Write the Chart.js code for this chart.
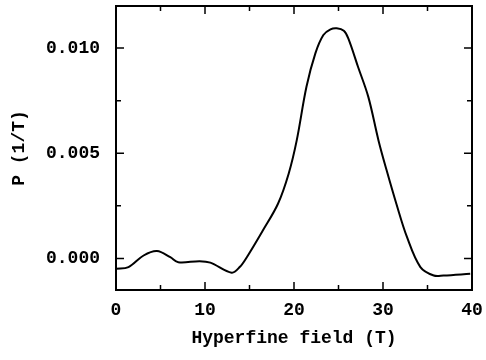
<!DOCTYPE html>
<html>
<head>
<meta charset="utf-8">
<script src="https://cdn.jsdelivr.net/npm/chart.js@4"></script>
<style>
  html, body { margin: 0; padding: 0; background: #fff; }
  #wrap { width: 486px; height: 360px; }
</style>
</head>
<body>
<div id="wrap"><canvas id="chart"></canvas></div>
<script>
// values
const fieldT = [0, 1.4, 3.1, 4.6, 6.1, 7.0, 9.4, 10.6, 13.0, 13.9, 14.7, 16.5, 18.2, 19.4, 20.3, 21.4, 22.4, 23.3, 24.1, 24.8, 25.6, 26.1, 27.2, 28.35, 29.5, 30.4, 31.5, 32.7, 34.2, 35.7, 36.8, 39.8];
const probability = [-0.00049, -0.00041, 0.00014, 0.00035, 0.00006, -0.00018, -0.00013, -0.0002, -0.00068, -0.00041, 0.00006, 0.00133, 0.0026, 0.00403, 0.0056, 0.00816, 0.00975, 0.01062, 0.01089, 0.01094, 0.01082, 0.01046, 0.0091, 0.00768, 0.0056, 0.0042, 0.0026, 0.00101, -0.00041, -0.00081, -0.00081, -0.00073];
const xTicks = [0, 10, 20, 30, 40];
const xMinor = [5, 15, 25, 35];
const yTicks = [0, 0.005, 0.010];
const yMinor = [0.0025, 0.0075];

const font = { family: '"Liberation Mono", "DejaVu Sans Mono", monospace', size: 18, weight: 'bold' };

// frame + inward ticks on all four sides
const framePlugin = {
    id: 'frame',
    afterDraw(chart) {
        const ctx = chart.ctx, a = chart.chartArea;
        const xs = chart.scales.x, ys = chart.scales.y;
        ctx.save();
        ctx.strokeStyle = '#000';
        ctx.lineWidth = 2;
        ctx.strokeRect(a.left, a.top, a.right - a.left, a.bottom - a.top);
        ctx.lineWidth = 1.5;
        const tick = (vals, len, horiz) => {
            vals.forEach(v => {
                ctx.beginPath();
                if (horiz) {
                    const px = xs.getPixelForValue(v);
                    ctx.moveTo(px, a.bottom); ctx.lineTo(px, a.bottom - len);
                    ctx.moveTo(px, a.top); ctx.lineTo(px, a.top + len);
                } else {
                    const py = ys.getPixelForValue(v);
                    ctx.moveTo(a.left, py); ctx.lineTo(a.left + len, py);
                    ctx.moveTo(a.right, py); ctx.lineTo(a.right - len, py);
                }
                ctx.stroke();
            });
        };
        tick(xTicks, 8, true);
        tick(xMinor, 5, true);
        tick(yTicks, 8, false);
        tick(yMinor, 5, false);
        ctx.restore();
    }
};

new Chart(document.getElementById('chart'), {
    type: 'line',
    data: {
        datasets: [{
            data: fieldT.map((x, i) => ({ x: x, y: probability[i] })),
            borderColor: '#000',
            borderWidth: 2,
            pointRadius: 0,
            fill: false,
            tension: 0.35
        }]
    },
    options: {
        responsive: true,
        maintainAspectRatio: false,
        animation: false,
        layout: { padding: { top: 6, right: 14, left: 0, bottom: 0 } },
        plugins: { legend: { display: false }, tooltip: { enabled: false } },
        scales: {
            x: {
                type: 'linear', min: 0, max: 40,
                afterBuildTicks: s => { s.ticks = xTicks.map(v => ({ value: v })); },
                afterFit: s => { s.height = 70; s.paddingLeft = 0; s.paddingRight = 0; },
                grid: { display: false, drawTicks: false },
                border: { display: false },
                ticks: { color: '#000', font: font, padding: 10, maxRotation: 0 },
                title: { display: true, text: 'Hyperfine field (T)', color: '#000', font: font, padding: 11 }
            },
            y: {
                type: 'linear', min: -0.0015, max: 0.012,
                afterBuildTicks: s => { s.ticks = yTicks.map(v => ({ value: v })); },
                afterFit: s => { s.width = 116; s.paddingTop = 0; s.paddingBottom = 0; },
                grid: { display: false, drawTicks: false },
                border: { display: false },
                ticks: { color: '#000', font: font, padding: 16, callback: v => v.toFixed(3) },
                title: { display: true, text: 'P (1/T)', color: '#000', font: font, padding: 9 }
            }
        }
    },
    plugins: [framePlugin]
});
</script>
</body>
</html>
